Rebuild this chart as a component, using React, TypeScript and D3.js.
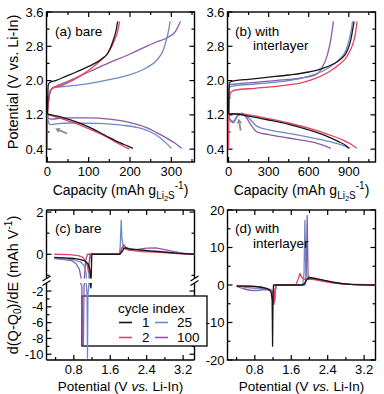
import React from "react";
import * as d3 from "d3";

type Pt = [number, number];

const cycles = ["1", "2", "25", "100"];
const cycleColors = ["#161616", "#e3425c", "#6b8bc8", "#8d5aa7"];

// (a) bare: capacity (mAh g-1) vs potential (V)
const bareCharge: Pt[][] = [
  [[0, 1.22], [1, 1.6], [2, 1.88], [5, 1.95], [20, 2.0], [45, 2.1], [70, 2.2], [100, 2.33], [120, 2.43], [135, 2.53], [145, 2.62], [152, 2.75], [158, 2.9], [163, 3.05], [167, 3.2], [170, 3.38]],
  [[0, 0.4], [0.3, 1.0], [0.6, 1.22], [3, 1.55], [8, 1.78], [15, 1.84], [30, 1.87], [50, 1.95], [75, 2.08], [100, 2.24], [127, 2.45], [145, 2.62], [155, 2.78], [163, 2.95], [170, 3.15], [175, 3.38]],
  [[0, 1.22], [4, 1.6], [10, 1.8], [20, 1.84], [50, 1.87], [100, 1.93], [150, 2.02], [200, 2.14], [240, 2.3], [265, 2.48], [280, 2.7], [288, 2.95], [294, 3.2], [297, 3.38]],
  [[0, 1.22], [4, 1.6], [10, 1.8], [20, 1.86], [50, 1.98], [100, 2.2], [150, 2.42], [200, 2.62], [240, 2.8], [264, 2.9], [290, 3.0], [310, 3.15], [322, 3.38]],
];
const bareDischarge: Pt[][] = [
  [[0, 1.22], [10, 1.2], [25, 1.17], [50, 1.1], [75, 1.02], [100, 0.92], [125, 0.8], [150, 0.67], [175, 0.55], [195, 0.47], [207, 0.42]],
  [[0, 1.22], [10, 1.18], [25, 1.14], [50, 1.06], [75, 0.98], [100, 0.88], [125, 0.77], [150, 0.65], [170, 0.54], [188, 0.45], [198, 0.4]],
  [[0, 1.2], [3, 1.02], [8, 0.97], [20, 0.99], [60, 1.01], [120, 1.0], [180, 0.96], [220, 0.9], [250, 0.8], [275, 0.65], [292, 0.5], [300, 0.42]],
  [[0, 1.2], [3, 1.12], [10, 1.1], [40, 1.13], [100, 1.13], [150, 1.1], [200, 1.02], [240, 0.9], [265, 0.78], [290, 0.65], [310, 0.53], [325, 0.42]],
];

// (b) with interlayer
const interCharge: Pt[][] = [
  [[0, 1.22], [2, 1.7], [5, 1.95], [50, 2.0], [150, 2.03], [300, 2.08], [450, 2.13], [600, 2.2], [700, 2.28], [780, 2.38], [840, 2.5], [890, 2.7], [915, 2.95], [930, 3.2], [940, 3.38]],
  [[0, 0.4], [1, 1.0], [2, 1.22], [5, 1.55], [15, 1.72], [50, 1.78], [200, 1.82], [400, 1.88], [550, 1.95], [650, 2.05], [750, 2.2], [830, 2.38], [890, 2.58], [930, 2.85], [950, 3.1], [962, 3.38]],
  [[0, 1.22], [3, 1.7], [8, 1.85], [50, 1.88], [200, 1.92], [400, 1.98], [550, 2.06], [650, 2.15], [750, 2.3], [830, 2.5], [880, 2.72], [905, 2.98], [920, 3.2], [928, 3.38]],
  [[0, 1.22], [3, 1.7], [8, 1.9], [50, 1.92], [200, 1.96], [350, 2.0], [550, 2.06], [650, 2.13], [700, 2.3], [740, 2.6], [765, 2.95], [785, 3.38]],
];
const interDischarge: Pt[][] = [
  [[0, 1.22], [50, 1.22], [150, 1.17], [300, 1.08], [450, 0.98], [600, 0.85], [720, 0.72], [820, 0.58], [880, 0.48], [900, 0.42]],
  [[0, 1.22], [50, 1.23], [150, 1.2], [300, 1.11], [450, 1.01], [600, 0.89], [750, 0.74], [850, 0.62], [920, 0.51], [960, 0.42]],
  [[0, 1.2], [15, 1.08], [35, 1.05], [70, 1.2], [100, 1.24], [150, 1.13], [214, 0.93], [300, 0.85], [450, 0.77], [600, 0.68], [750, 0.58], [860, 0.48], [910, 0.42]],
  [[0, 1.2], [15, 1.05], [35, 1.02], [70, 1.18], [100, 1.22], [130, 1.15], [170, 0.95], [214, 0.8], [300, 0.74], [450, 0.66], [600, 0.58], [700, 0.5], [765, 0.42]],
];

// (c) bare: potential (V) vs d(Q-Q0)/dE (mAh V-1)
const bareDiff: Pt[][] = [
  [[0.37, -0.15], [0.6, -0.17], [0.8, -0.2], [0.95, -0.25], [1.05, -0.33], [1.11, -0.45], [1.15, -0.7], [1.165, -1.2], [1.175, -1.6], [1.185, -0.8], [1.195, 0], [1.8, 0], [1.86, 0.12], [1.9, 0.28], [1.95, 0.3], [2.02, 0.25], [2.2, 0.22], [2.5, 0.15], [2.8, 0.1], [3.1, 0.04], [3.45, 0]],
  [[0.37, 0], [0.7, -0.02], [0.9, -0.06], [1.0, -0.15], [1.05, -0.3], [1.1, -0.55], [1.12, -0.85], [1.14, -0.3], [1.16, 0], [1.82, 0], [1.86, 0.3], [1.9, 0.45], [1.95, 0.3], [2.05, 0.18], [2.3, 0.13], [2.6, 0.1], [2.9, 0.06], [3.2, 0.02], [3.45, 0]],
  [[0.37, -0.2], [0.6, -0.22], [0.8, -0.26], [0.95, -0.37], [1.03, -0.55], [1.07, -0.9], [1.09, -2.5], [1.1, -10.5], [1.11, -2.5], [1.14, -0.5], [1.17, 0], [1.8, 0], [1.82, 0.4], [1.84, 1.62], [1.855, 0.8], [1.88, 0.45], [1.95, 0.3], [2.1, 0.23], [2.4, 0.18], [2.7, 0.13], [3.0, 0.07], [3.45, 0]],
  [[0.37, -0.2], [0.6, -0.25], [0.75, -0.3], [0.85, -0.45], [0.92, -0.7], [0.975, -1.3], [0.995, -8.8], [1.01, -8.8], [1.025, -1.3], [1.06, -0.3], [1.1, 0], [1.8, 0], [1.84, 0.22], [1.87, 0.36], [1.92, 0.27], [2.0, 0.2], [2.2, 0.23], [2.4, 0.29], [2.6, 0.3], [2.8, 0.22], [3.0, 0.12], [3.2, 0.05], [3.45, 0]],
];

// (d) with interlayer
const interDiff: Pt[][] = [
  [[0.4, -0.3], [0.6, -0.3], [0.8, -0.4], [0.95, -0.6], [1.05, -0.9], [1.12, -1.3], [1.16, -2.0], [1.18, -4], [1.19, -16.3], [1.2, -3], [1.21, 0], [1.85, 0], [1.9, 0.5], [1.95, 1.6], [2.0, 2.0], [2.1, 1.8], [2.3, 1.3], [2.5, 0.8], [2.7, 0.4], [2.9, 0.15], [3.2, 0.02], [3.45, 0]],
  [[0.4, -0.2], [0.7, -0.3], [0.9, -0.5], [1.05, -0.9], [1.15, -1.5], [1.2, -2.2], [1.22, -5.2], [1.24, -1.5], [1.26, 0], [1.7, 0], [1.75, 1.5], [1.79, 3.1], [1.83, 2.0], [1.9, 1.5], [2.0, 1.6], [2.15, 1.4], [2.3, 1.0], [2.5, 0.6], [2.7, 0.3], [3.0, 0.1], [3.45, 0]],
  [[0.4, -0.3], [0.6, -0.6], [0.8, -0.9], [1.0, -1.0], [1.15, -1.2], [1.22, -2], [1.24, -4.3], [1.26, -1], [1.28, 0], [1.85, 0], [1.88, 3], [1.9, 17.2], [1.92, 2.5], [1.96, 2.0], [2.05, 1.8], [2.2, 1.4], [2.4, 0.9], [2.6, 0.5], [2.9, 0.2], [3.45, 0]],
  [[0.4, -0.4], [0.55, -1.0], [0.7, -1.4], [0.85, -1.5], [1.0, -1.2], [1.12, -1.3], [1.2, -2.0], [1.23, -4.5], [1.25, -1], [1.27, 0], [1.9, 0], [1.93, 3], [1.95, 18.5], [1.97, 2.5], [2.0, 1.8], [2.1, 1.6], [2.3, 1.2], [2.5, 0.7], [2.7, 0.35], [3.0, 0.1], [3.45, 0]],
];

const capMajorA = [0, 100, 200, 300];
const capMinorA = [50, 150, 250, 350];
const capMajorB = [0, 300, 600, 900];
const capMinorB = [150, 450, 750, 1050];
const voltMajor = [0.4, 1.2, 2.0, 2.8, 3.6];
const voltMinor = [0.8, 1.6, 2.4, 3.2];
const potMajor = [0.8, 1.6, 2.4, 3.2];
const potMinor = [0.4, 1.2, 2.0, 2.8];
const diffMajorTop = [0, 2];
const diffMinorTop = [-1, 1];
const diffMajorBot = [-10, -8, -6, -4, -2];
const diffMinorBot = [-9, -7, -5, -3];
const diffMajorD = [-20, -10, 0, 10, 20];
const diffMinorD = [-15, -5, 5, 15];

const FONT = "'Liberation Sans', Arial, Helvetica, sans-serif";
const TFS = 13;
const MAJ = 5;
const MIN = 3;

type Sc = d3.ScaleLinear<number, number>;

function xTickLines(s: Sc, vals: number[], top: number, bottom: number, len: number, k: string) {
  return vals.map((v, i) => {
    const x = s(v);
    return (
      <g key={k + i}>
        <line x1={x} x2={x} y1={bottom} y2={bottom - len} />
        <line x1={x} x2={x} y1={top} y2={top + len} />
      </g>
    );
  });
}
function yTickLines(s: Sc, vals: number[], left: number, right: number, len: number, k: string) {
  return vals.map((v, i) => {
    const y = s(v);
    return (
      <g key={k + i}>
        <line x1={left} x2={left + len} y1={y} y2={y} />
        <line x1={right} x2={right - len} y1={y} y2={y} />
      </g>
    );
  });
}
function xLabels(s: Sc, vals: number[], y: number, fmt: (v: number) => string) {
  return vals.map((v, i) => (
    <text key={i} x={s(v)} y={y} textAnchor="middle">{fmt(v)}</text>
  ));
}
function yLabels(s: Sc, vals: number[], x: number, fmt: (v: number) => string) {
  return vals.map((v, i) => (
    <text key={i} x={x} y={s(v) + 4.6} textAnchor="end">{fmt(v)}</text>
  ));
}
function arrow(x1: number, y1: number, x2: number, y2: number) {
  const dx = x2 - x1, dy = y2 - y1;
  const L = Math.hypot(dx, dy);
  const ux = dx / L, uy = dy / L;
  const hl = 5, hw = 2.6;
  const bx = x2 - ux * hl, by = y2 - uy * hl;
  const pts = [
    [x2, y2],
    [bx - uy * hw, by + ux * hw],
    [bx + uy * hw, by - ux * hw],
  ];
  return (
    <g>
      <line x1={x1} y1={y1} x2={bx} y2={by} stroke="#8a8a8a" strokeWidth={1.8} />
      <polygon points={pts.map((p) => p.join(",")).join(" ")} fill="#8a8a8a" />
    </g>
  );
}

export default function App() {
  const L = [46.5, 227.5];
  const R = [194.5, 375.5];
  const T = [12, 210];
  const B = [162, 360];

  const xA = d3.scaleLinear().domain([-2, 356]).range([L[0], R[0]]);
  const xB = d3.scaleLinear().domain([-8, 1100]).range([L[1], R[1]]);
  const yV = d3.scaleLinear().domain([0.1, 3.6]).range([B[0], T[0]]);
  const xC = d3.scaleLinear().domain([0.2, 3.45]).range([L[0], R[0]]);
  const xD = d3.scaleLinear().domain([0.2, 3.45]).range([L[1], R[1]]);
  const brkTop = 278.5;
  const brkBot = 283;
  const yCt = d3.scaleLinear().domain([-1.15, 2.1]).range([brkTop, 210]);
  const yCb = d3.scaleLinear().domain([-10.73, -0.92]).range([B[1], 282.5]);
  const yD = d3.scaleLinear().domain([-20, 20]).range([B[1], T[1]]);

  const qv = (xs: Sc) =>
    d3.line<Pt>().x((d) => xs(d[0])).y((d) => yV(d[1])).curve(d3.curveMonotoneX);
  const dq = (xs: Sc, ys: Sc) =>
    d3.line<Pt>().x((d) => xs(d[0])).y((d) => ys(d[1])).curve(d3.curveLinear);

  const order = [3, 2, 1, 0];
  const lw = 1.3;
  const f1 = (v: number) => v.toFixed(1);
  const f0 = (v: number) => String(v);

  const capTitle = (cx: number) => (
    <text x={cx} y={195} textAnchor="middle" fontSize={14}>
      Capacity (mAh g
      <tspan fontSize={10} dy={3.5}>Li</tspan>
      <tspan fontSize={7.5} dy={2}>2</tspan>
      <tspan fontSize={10} dy={-2}>S</tspan>
      <tspan fontSize={10} dy={-10}>-1</tspan>
      <tspan fontSize={14} dy={6.5}>)</tspan>
    </text>
  );
  const potTitle = (cx: number) => (
    <text x={cx} y={390.5} textAnchor="middle" fontSize={13.5}>
      Potential (V <tspan fontStyle="italic">vs.</tspan> Li-In)
    </text>
  );

  return (
    <svg
      width={384}
      height={394}
      style={{ position: "absolute", left: 0, top: 0, background: "#fff" }}
      fontFamily={FONT}
    >
      <defs>
        <clipPath id="clipA"><rect x={L[0]} y={T[0]} width={R[0] - L[0]} height={B[0] - T[0]} /></clipPath>
        <clipPath id="clipB"><rect x={L[1]} y={T[0]} width={R[1] - L[1]} height={B[0] - T[0]} /></clipPath>
        <clipPath id="clipCt"><rect x={L[0]} y={T[1]} width={R[0] - L[0]} height={brkTop - T[1]} /></clipPath>
        <clipPath id="clipCb"><rect x={L[0]} y={brkBot} width={R[0] - L[0]} height={B[1] - brkBot} /></clipPath>
        <clipPath id="clipD"><rect x={L[1]} y={T[1]} width={R[1] - L[1]} height={B[1] - T[1]} /></clipPath>
      </defs>
      <rect x={0} y={0} width={384} height={394} fill="#fff" />

      {/* frames and ticks */}
      <g stroke="#000" strokeWidth={1.2} fill="none">
        <rect x={L[0]} y={T[0]} width={R[0] - L[0]} height={B[0] - T[0]} strokeWidth={1.4} />
        <rect x={L[1]} y={T[0]} width={R[1] - L[1]} height={B[0] - T[0]} strokeWidth={1.4} />
        <rect x={L[1]} y={T[1]} width={R[1] - L[1]} height={B[1] - T[1]} strokeWidth={1.4} />
        <g strokeWidth={1.4}>
          <line x1={L[0]} x2={R[0]} y1={T[1]} y2={T[1]} />
          <line x1={L[0]} x2={R[0]} y1={B[1]} y2={B[1]} />
          <line x1={L[0]} x2={L[0]} y1={T[1]} y2={brkTop} />
          <line x1={L[0]} x2={L[0]} y1={brkBot} y2={B[1]} />
          <line x1={R[0]} x2={R[0]} y1={T[1]} y2={brkTop} />
          <line x1={R[0]} x2={R[0]} y1={brkBot} y2={B[1]} />
        </g>
        {[L[0], R[0]].map((x, i) =>
          [brkTop, brkBot].map((y, j) => (
            <line key={"brk" + i + j} x1={x - 4} y1={y + 2.5} x2={x + 4} y2={y - 2.5} />
          ))
        )}
        {xTickLines(xA, capMajorA, T[0], B[0], MAJ, "xa")}
        {xTickLines(xA, capMinorA, T[0], B[0], MIN, "xam")}
        {yTickLines(yV, voltMajor, L[0], R[0], MAJ, "ya")}
        {yTickLines(yV, voltMinor, L[0], R[0], MIN, "yam")}
        {xTickLines(xB, capMajorB, T[0], B[0], MAJ, "xb")}
        {xTickLines(xB, capMinorB, T[0], B[0], MIN, "xbm")}
        {yTickLines(yV, voltMajor, L[1], R[1], MAJ, "yb")}
        {yTickLines(yV, voltMinor, L[1], R[1], MIN, "ybm")}
        {xTickLines(xC, potMajor, T[1], B[1], MAJ, "xc")}
        {xTickLines(xC, potMinor, T[1], B[1], MIN, "xcm")}
        {yTickLines(yCt, diffMajorTop, L[0], R[0], MAJ, "yct")}
        {yTickLines(yCt, diffMinorTop, L[0], R[0], MIN, "yctm")}
        {yTickLines(yCb, diffMajorBot, L[0], R[0], MAJ, "ycb")}
        {yTickLines(yCb, diffMinorBot, L[0], R[0], MIN, "ycbm")}
        {xTickLines(xD, potMajor, T[1], B[1], MAJ, "xd")}
        {xTickLines(xD, potMinor, T[1], B[1], MIN, "xdm")}
        {yTickLines(yD, diffMajorD, L[1], R[1], MAJ, "yd")}
        {yTickLines(yD, diffMinorD, L[1], R[1], MIN, "ydm")}
      </g>

      {/* legend box (behind data) */}
      <rect x={82} y={296} width={125} height={50} fill="#fff" stroke="#000" strokeWidth={1.3} />

      {/* data */}
      <g fill="none" strokeWidth={lw} strokeLinejoin="round">
        <g clipPath="url(#clipA)">
          {order.map((i) => (
            <g key={"a" + i} stroke={cycleColors[i]}>
              <path d={qv(xA)(bareCharge[i]) || ""} />
              <path d={qv(xA)(bareDischarge[i]) || ""} />
            </g>
          ))}
        </g>
        <g clipPath="url(#clipB)">
          {order.map((i) => (
            <g key={"b" + i} stroke={cycleColors[i]}>
              <path d={qv(xB)(interCharge[i]) || ""} />
              <path d={qv(xB)(interDischarge[i]) || ""} />
            </g>
          ))}
        </g>
        <g clipPath="url(#clipCt)">
          {order.map((i) => (
            <path key={"ct" + i} stroke={cycleColors[i]} d={dq(xC, yCt)(bareDiff[i]) || ""} />
          ))}
        </g>
        <g clipPath="url(#clipCb)">
          {order.map((i) => (
            <path key={"cb" + i} stroke={cycleColors[i]} d={dq(xC, yCb)(bareDiff[i]) || ""} />
          ))}
        </g>
        <g clipPath="url(#clipD)">
          {order.map((i) => (
            <path key={"d" + i} stroke={cycleColors[i]} d={dq(xD, yD)(interDiff[i]) || ""} />
          ))}
        </g>
      </g>

      {arrow(67, 133.5, 55, 128.5)}
      {arrow(240.7, 130.5, 238.6, 118.5)}

      {/* tick labels */}
      <g fontSize={TFS} fill="#000">
        {yLabels(yV, voltMajor, L[0] - 3, f1)}
        {yLabels(yV, voltMajor, L[1] - 3, f1)}
        {xLabels(xA, capMajorA, B[0] + 14, f0)}
        {xLabels(xB, capMajorB, B[0] + 14, f0)}
        {yLabels(yCt, diffMajorTop, L[0] - 3, f0)}
        {yLabels(yCb, diffMajorBot, L[0] - 3, f0)}
        {yLabels(yD, diffMajorD, L[1] - 3, f0)}
        {xLabels(xC, potMajor, B[1] + 14, f1)}
        {xLabels(xD, potMajor, B[1] + 14, f1)}
      </g>

      {/* axis titles */}
      <g fill="#000">
        {capTitle((L[0] + R[0]) / 2)}
        {capTitle((L[1] + R[1]) / 2)}
        {potTitle((L[0] + R[0]) / 2)}
        {potTitle((L[1] + R[1]) / 2)}
        <text transform={`translate(18,${(T[0] + B[0]) / 2 - 5}) rotate(-90)`} textAnchor="middle" fontSize={14.5}>
          Potential (V vs. Li-In)
        </text>
        <text transform={`translate(18,${(T[1] + B[1]) / 2}) rotate(-90)`} textAnchor="middle" fontSize={14.5}>
          d(Q-Q<tspan fontSize={10} dy={3}>0</tspan>
          <tspan dy={-3}>)/dE (mAh V</tspan>
          <tspan fontSize={10} dy={-6}>-1</tspan>
          <tspan dy={6}>)</tspan>
        </text>
      </g>

      {/* panel labels */}
      <g fontSize={13.5} fill="#000">
        <text x={55} y={36}>(a) bare</text>
        <text x={235} y={36}>(b) with</text>
        <text x={253} y={50}>interlayer</text>
        <text x={55} y={233}>(c) bare</text>
        <text x={235} y={233}>(d) with</text>
        <text x={253} y={248}>interlayer</text>
      </g>

      {/* legend contents */}
      <g fontSize={13.5} fill="#000">
        <text x={118} y={313}>cycle index</text>
        {cycles.map((c, i) => {
          const cIdx = i < 2 ? 0 : 1;
          const rIdx = i % 2;
          const lx = cIdx === 0 ? 119 : 155;
          const tx = cIdx === 0 ? 142 : 177;
          const y = rIdx === 0 ? 322.5 : 337.5;
          return (
            <g key={"lg" + c}>
              <line x1={lx} x2={lx + 13} y1={y} y2={y} stroke={cycleColors[i]} strokeWidth={1.6} />
              <text x={tx} y={y + 4.7}>{c}</text>
            </g>
          );
        })}
      </g>
    </svg>
  );
}
